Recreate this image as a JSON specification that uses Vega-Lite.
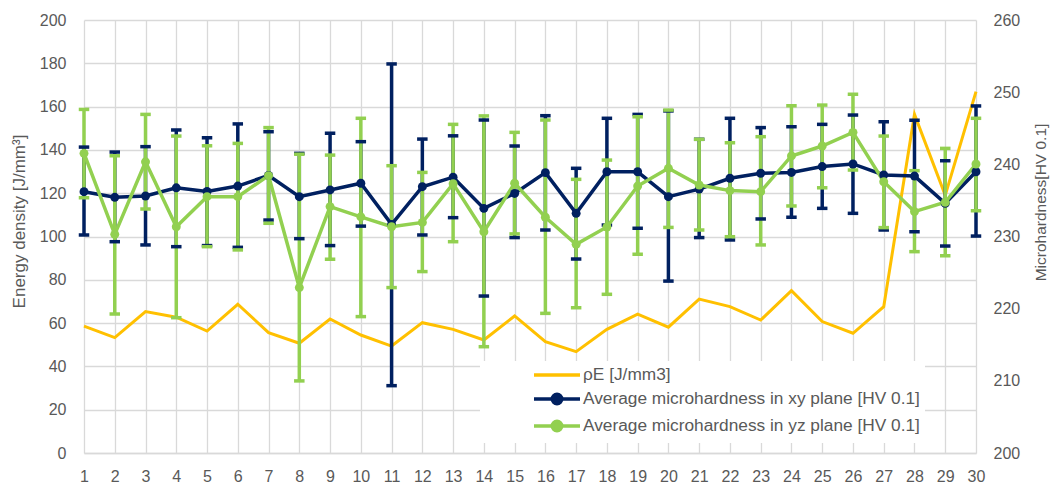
{
  "$schema": "https://vega.github.io/schema/vega-lite/v6.json",
  "width": 892,
  "height": 433,
  "autosize": {"type": "none"},
  "padding": {"left": 84, "top": 20, "right": 79, "bottom": 34},
  "background": "white",
  "config": {
    "view": {"stroke": null},
    "font": "Liberation Sans",
    "axis": {
      "labelFont": "Liberation Sans",
      "titleFont": "Liberation Sans",
      "labelFontSize": 16,
      "titleFontSize": 16,
      "labelColor": "#595959",
      "titleColor": "#595959",
      "titleFontWeight": "normal",
      "gridColor": "#d9d9d9",
      "gridWidth": 1.3,
      "domainColor": "#d9d9d9",
      "domainWidth": 1.3,
      "ticks": false
    },
    "axisX": {"labelOverlap": false, "labelFlush": false}
  },
  "datasets": {
    "energy": [
      {"x": 1, "series": "ρE [J/mm3]", "rho": 58.6},
      {"x": 2, "series": "ρE [J/mm3]", "rho": 53.3},
      {"x": 3, "series": "ρE [J/mm3]", "rho": 65.3},
      {"x": 4, "series": "ρE [J/mm3]", "rho": 62.7},
      {"x": 5, "series": "ρE [J/mm3]", "rho": 56.3},
      {"x": 6, "series": "ρE [J/mm3]", "rho": 68.7},
      {"x": 7, "series": "ρE [J/mm3]", "rho": 55.6},
      {"x": 8, "series": "ρE [J/mm3]", "rho": 50.7},
      {"x": 9, "series": "ρE [J/mm3]", "rho": 61.9},
      {"x": 10, "series": "ρE [J/mm3]", "rho": 54.5},
      {"x": 11, "series": "ρE [J/mm3]", "rho": 49.4},
      {"x": 12, "series": "ρE [J/mm3]", "rho": 60.2},
      {"x": 13, "series": "ρE [J/mm3]", "rho": 57.1},
      {"x": 14, "series": "ρE [J/mm3]", "rho": 52.2},
      {"x": 15, "series": "ρE [J/mm3]", "rho": 63.3},
      {"x": 16, "series": "ρE [J/mm3]", "rho": 51.4},
      {"x": 17, "series": "ρE [J/mm3]", "rho": 46.8},
      {"x": 18, "series": "ρE [J/mm3]", "rho": 57.1},
      {"x": 19, "series": "ρE [J/mm3]", "rho": 64.1},
      {"x": 20, "series": "ρE [J/mm3]", "rho": 58.1},
      {"x": 21, "series": "ρE [J/mm3]", "rho": 71.1},
      {"x": 22, "series": "ρE [J/mm3]", "rho": 67.6},
      {"x": 23, "series": "ρE [J/mm3]", "rho": 61.4},
      {"x": 24, "series": "ρE [J/mm3]", "rho": 75.0},
      {"x": 25, "series": "ρE [J/mm3]", "rho": 60.7},
      {"x": 26, "series": "ρE [J/mm3]", "rho": 55.3},
      {"x": 27, "series": "ρE [J/mm3]", "rho": 67.6},
      {"x": 28, "series": "ρE [J/mm3]", "rho": 156.4},
      {"x": 29, "series": "ρE [J/mm3]", "rho": 119.0},
      {"x": 30, "series": "ρE [J/mm3]", "rho": 166.9}
    ],
    "hard": [
      {"x": 1, "series": "Average microhardness in xy plane [HV 0.1]", "mean": 236.21, "lo": 230.21, "hi": 242.39},
      {"x": 2, "series": "Average microhardness in xy plane [HV 0.1]", "mean": 235.43, "lo": 229.28, "hi": 241.7},
      {"x": 3, "series": "Average microhardness in xy plane [HV 0.1]", "mean": 235.61, "lo": 228.83, "hi": 242.45},
      {"x": 4, "series": "Average microhardness in xy plane [HV 0.1]", "mean": 236.75, "lo": 228.59, "hi": 244.76},
      {"x": 5, "series": "Average microhardness in xy plane [HV 0.1]", "mean": 236.24, "lo": 228.74, "hi": 243.68},
      {"x": 6, "series": "Average microhardness in xy plane [HV 0.1]", "mean": 236.99, "lo": 228.5, "hi": 245.6},
      {"x": 7, "series": "Average microhardness in xy plane [HV 0.1]", "mean": 238.46, "lo": 232.28, "hi": 244.52},
      {"x": 8, "series": "Average microhardness in xy plane [HV 0.1]", "mean": 235.52, "lo": 229.7, "hi": 241.52},
      {"x": 9, "series": "Average microhardness in xy plane [HV 0.1]", "mean": 236.45, "lo": 228.74, "hi": 244.31},
      {"x": 10, "series": "Average microhardness in xy plane [HV 0.1]", "mean": 237.38, "lo": 231.44, "hi": 243.14},
      {"x": 11, "series": "Average microhardness in xy plane [HV 0.1]", "mean": 231.68, "lo": 209.33, "hi": 253.91},
      {"x": 12, "series": "Average microhardness in xy plane [HV 0.1]", "mean": 236.9, "lo": 230.21, "hi": 243.5},
      {"x": 13, "series": "Average microhardness in xy plane [HV 0.1]", "mean": 238.22, "lo": 232.61, "hi": 243.95},
      {"x": 14, "series": "Average microhardness in xy plane [HV 0.1]", "mean": 233.9, "lo": 221.75, "hi": 246.14},
      {"x": 15, "series": "Average microhardness in xy plane [HV 0.1]", "mean": 235.97, "lo": 229.85, "hi": 242.54},
      {"x": 16, "series": "Average microhardness in xy plane [HV 0.1]", "mean": 238.85, "lo": 230.9, "hi": 246.74},
      {"x": 17, "series": "Average microhardness in xy plane [HV 0.1]", "mean": 233.21, "lo": 226.88, "hi": 239.45},
      {"x": 18, "series": "Average microhardness in xy plane [HV 0.1]", "mean": 238.97, "lo": 231.59, "hi": 246.38},
      {"x": 19, "series": "Average microhardness in xy plane [HV 0.1]", "mean": 238.97, "lo": 231.14, "hi": 246.92},
      {"x": 20, "series": "Average microhardness in xy plane [HV 0.1]", "mean": 235.52, "lo": 223.82, "hi": 247.4},
      {"x": 21, "series": "Average microhardness in xy plane [HV 0.1]", "mean": 236.57, "lo": 229.85, "hi": 243.47},
      {"x": 22, "series": "Average microhardness in xy plane [HV 0.1]", "mean": 238.07, "lo": 229.52, "hi": 246.38},
      {"x": 23, "series": "Average microhardness in xy plane [HV 0.1]", "mean": 238.76, "lo": 232.43, "hi": 245.09},
      {"x": 24, "series": "Average microhardness in xy plane [HV 0.1]", "mean": 238.88, "lo": 232.67, "hi": 245.21},
      {"x": 25, "series": "Average microhardness in xy plane [HV 0.1]", "mean": 239.69, "lo": 233.9, "hi": 245.54},
      {"x": 26, "series": "Average microhardness in xy plane [HV 0.1]", "mean": 240.05, "lo": 233.21, "hi": 246.83},
      {"x": 27, "series": "Average microhardness in xy plane [HV 0.1]", "mean": 238.52, "lo": 230.9, "hi": 245.9},
      {"x": 28, "series": "Average microhardness in xy plane [HV 0.1]", "mean": 238.37, "lo": 230.66, "hi": 246.11},
      {"x": 29, "series": "Average microhardness in xy plane [HV 0.1]", "mean": 234.59, "lo": 228.68, "hi": 240.5},
      {"x": 30, "series": "Average microhardness in xy plane [HV 0.1]", "mean": 238.97, "lo": 230.06, "hi": 248.09},
      {"x": 1, "series": "Average microhardness in yz plane [HV 0.1]", "mean": 241.52, "lo": 235.37, "hi": 247.61},
      {"x": 2, "series": "Average microhardness in yz plane [HV 0.1]", "mean": 230.3, "lo": 219.26, "hi": 241.19},
      {"x": 3, "series": "Average microhardness in yz plane [HV 0.1]", "mean": 240.35, "lo": 233.81, "hi": 246.92},
      {"x": 4, "series": "Average microhardness in yz plane [HV 0.1]", "mean": 231.35, "lo": 218.75, "hi": 243.92},
      {"x": 5, "series": "Average microhardness in yz plane [HV 0.1]", "mean": 235.52, "lo": 228.59, "hi": 242.57},
      {"x": 6, "series": "Average microhardness in yz plane [HV 0.1]", "mean": 235.52, "lo": 228.14, "hi": 242.9},
      {"x": 7, "series": "Average microhardness in yz plane [HV 0.1]", "mean": 238.43, "lo": 231.83, "hi": 245.09},
      {"x": 8, "series": "Average microhardness in yz plane [HV 0.1]", "mean": 222.92, "lo": 209.99, "hi": 241.4},
      {"x": 9, "series": "Average microhardness in yz plane [HV 0.1]", "mean": 234.14, "lo": 226.85, "hi": 241.28},
      {"x": 10, "series": "Average microhardness in yz plane [HV 0.1]", "mean": 232.73, "lo": 218.9, "hi": 246.38},
      {"x": 11, "series": "Average microhardness in yz plane [HV 0.1]", "mean": 231.35, "lo": 222.92, "hi": 239.81},
      {"x": 12, "series": "Average microhardness in yz plane [HV 0.1]", "mean": 231.95, "lo": 225.14, "hi": 238.88},
      {"x": 13, "series": "Average microhardness in yz plane [HV 0.1]", "mean": 237.32, "lo": 229.28, "hi": 245.54},
      {"x": 14, "series": "Average microhardness in yz plane [HV 0.1]", "mean": 230.66, "lo": 214.73, "hi": 246.71},
      {"x": 15, "series": "Average microhardness in yz plane [HV 0.1]", "mean": 237.38, "lo": 230.36, "hi": 244.43},
      {"x": 16, "series": "Average microhardness in yz plane [HV 0.1]", "mean": 232.67, "lo": 219.35, "hi": 246.14},
      {"x": 17, "series": "Average microhardness in yz plane [HV 0.1]", "mean": 228.92, "lo": 220.13, "hi": 237.92},
      {"x": 18, "series": "Average microhardness in yz plane [HV 0.1]", "mean": 231.32, "lo": 221.99, "hi": 240.59},
      {"x": 19, "series": "Average microhardness in yz plane [HV 0.1]", "mean": 236.99, "lo": 227.54, "hi": 246.59},
      {"x": 20, "series": "Average microhardness in yz plane [HV 0.1]", "mean": 239.45, "lo": 231.26, "hi": 247.52},
      {"x": 21, "series": "Average microhardness in yz plane [HV 0.1]", "mean": 237.14, "lo": 230.9, "hi": 243.47},
      {"x": 22, "series": "Average microhardness in yz plane [HV 0.1]", "mean": 236.36, "lo": 229.97, "hi": 242.99},
      {"x": 23, "series": "Average microhardness in yz plane [HV 0.1]", "mean": 236.21, "lo": 228.83, "hi": 243.83},
      {"x": 24, "series": "Average microhardness in yz plane [HV 0.1]", "mean": 241.16, "lo": 234.23, "hi": 248.12},
      {"x": 25, "series": "Average microhardness in yz plane [HV 0.1]", "mean": 242.54, "lo": 236.75, "hi": 248.21},
      {"x": 26, "series": "Average microhardness in yz plane [HV 0.1]", "mean": 244.43, "lo": 239.21, "hi": 249.71},
      {"x": 27, "series": "Average microhardness in yz plane [HV 0.1]", "mean": 237.59, "lo": 231.23, "hi": 243.92},
      {"x": 28, "series": "Average microhardness in yz plane [HV 0.1]", "mean": 233.45, "lo": 227.9, "hi": 239.12},
      {"x": 29, "series": "Average microhardness in yz plane [HV 0.1]", "mean": 234.74, "lo": 227.33, "hi": 242.21},
      {"x": 30, "series": "Average microhardness in yz plane [HV 0.1]", "mean": 240.05, "lo": 233.57, "hi": 246.38}
    ]
  },
  "layer": [
    {
      "data": {"name": "energy"},
      "mark": {"type": "line", "strokeWidth": 3},
      "encoding": {
        "x": {
          "field": "x", "type": "quantitative",
          "scale": {"domain": [1, 30], "nice": false, "zero": false},
          "axis": {"values": [1,2,3,4,5,6,7,8,9,10,11,12,13,14,15,16,17,18,19,20,21,22,23,24,25,26,27,28,29,30], "title": null, "grid": true, "labelPadding": 15, "domain": true, "labelOverlap": false, "labelFlush": false, "labelBound": false}
        },
        "y": {
          "field": "rho", "type": "quantitative",
          "scale": {"domain": [0, 200], "nice": false},
          "axis": {"values": [0,20,40,60,80,100,120,140,160,180,200], "grid": true, "domain": false, "labelPadding": 18, "title": "Energy density [J/mm³]", "titleFontSize": 17, "titlePadding": 11, "titleY": 201}
        },
        "color": {
          "field": "series", "type": "nominal",
          "scale": {
            "domain": ["ρE [J/mm3]", "Average microhardness in xy plane [HV 0.1]", "Average microhardness in yz plane [HV 0.1]"],
            "range": ["#ffc000", "#002060", "#92d050"]
          },
          "legend": {
            "orient": "none",
            "legendX": 396,
            "legendY": 341,
            "direction": "vertical",
            "title": null,
            "fillColor": "white",
            "padding": 5,
            "labelFont": "Liberation Sans",
            "labelFontSize": 17.3,
            "labelColor": "#595959",
            "labelLimit": 600,
            "labelOffset": 17,
            "symbolOffset": 63,
            "symbolType": "M-3.286,0L3.286,0M-0.68,0A0.68,0.68,0,1,1,0.68,0A0.68,0.68,0,1,1,-0.68,0Z",
            "symbolSize": 196,
            "symbolStrokeWidth": 3.5,
            "rowPadding": 3,
            "encode": {
              "symbols": {
                "update": {
                  "fill": {"signal": "datum.value === 'ρE [J/mm3]' ? 'transparent' : scale('color', datum.value)"},
                  "stroke": {"signal": "scale('color', datum.value)"},
                  "shape": {"signal": "datum.value === 'ρE [J/mm3]' ? 'M-3.286,0L3.286,0' : 'M-3.286,0L3.286,0M-0.68,0A0.68,0.68,0,1,1,0.68,0A0.68,0.68,0,1,1,-0.68,0Z'"},
                  "opacity": {"value": 1}
                }
              }
            }
          }
        }
      }
    },
    {
      "data": {"name": "hard"},
      "encoding": {
        "x": {"field": "x", "type": "quantitative",
          "axis": {"values": [1,2,3,4,5,6,7,8,9,10,11,12,13,14,15,16,17,18,19,20,21,22,23,24,25,26,27,28,29,30], "title": null, "grid": true, "labelPadding": 15, "domain": true, "labelOverlap": false, "labelFlush": false, "labelBound": false}},
        "color": {"field": "series", "type": "nominal"}
      },
      "layer": [
        {
          "mark": {"type": "rule", "strokeWidth": 3.5},
          "encoding": {
            "y": {"field": "lo", "type": "quantitative", "scale": {"domain": [200, 260], "nice": false, "zero": false},
              "axis": {"orient": "right", "values": [200,210,220,230,240,250,260], "grid": false, "domain": false, "labelPadding": 17, "title": "Microhardness[HV 0.1]", "titleFontSize": 15.5, "titleAngle": 270, "titlePadding": 29, "titleY": 182}},
            "y2": {"field": "hi"}
          }
        },
        {
          "mark": {"type": "point", "shape": "M-1,0L1,0", "size": 110, "strokeWidth": 3.5, "filled": false, "opacity": 1},
          "encoding": {
            "y": {"field": "lo", "type": "quantitative"}
          }
        },
        {
          "mark": {"type": "point", "shape": "M-1,0L1,0", "size": 110, "strokeWidth": 3.5, "filled": false, "opacity": 1},
          "encoding": {
            "y": {"field": "hi", "type": "quantitative"}
          }
        },
        {
          "mark": {"type": "line", "strokeWidth": 3.5},
          "encoding": {
            "y": {"field": "mean", "type": "quantitative"}
          }
        },
        {
          "mark": {"type": "point", "filled": true, "size": 80, "opacity": 1},
          "encoding": {
            "y": {"field": "mean", "type": "quantitative"}
          }
        }
      ]
    }
  ],
  "resolve": {"scale": {"y": "independent"}}
}
